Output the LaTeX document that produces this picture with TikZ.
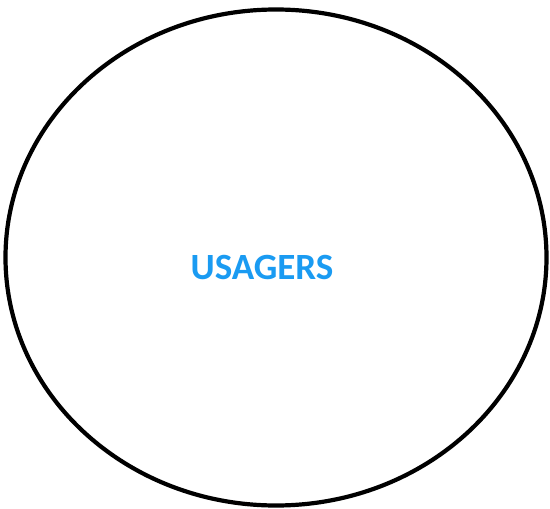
\documentclass[tikz,border=0pt]{standalone}
\usepackage{fontspec}
\setmainfont{Carlito}
\usepackage{xcolor}
\usepackage{tikz}
\usetikzlibrary{shapes.geometric}
\definecolor{bg}{HTML}{FFFFFF}
\definecolor{edge}{HTML}{000000}
\definecolor{usagerblue}{HTML}{1A9BF2}
\tikzset{
  actor/.style={draw=edge, line width=4.2pt, ellipse, minimum width=541pt, minimum height=496pt, inner sep=0pt},
  lab/.style={text=usagerblue, font=\fontsize{37}{42}\selectfont\bfseries},
}
\begin{document}
\begin{tikzpicture}[x=1pt, y=-1pt]
\useasboundingbox[fill=bg] (0,0) rectangle (550,509);
\node[actor] (usagers) at (276,257.5) {};
\node[lab] (usagerslab) at (262,268) {USAGERS};
\end{tikzpicture}
\end{document}
